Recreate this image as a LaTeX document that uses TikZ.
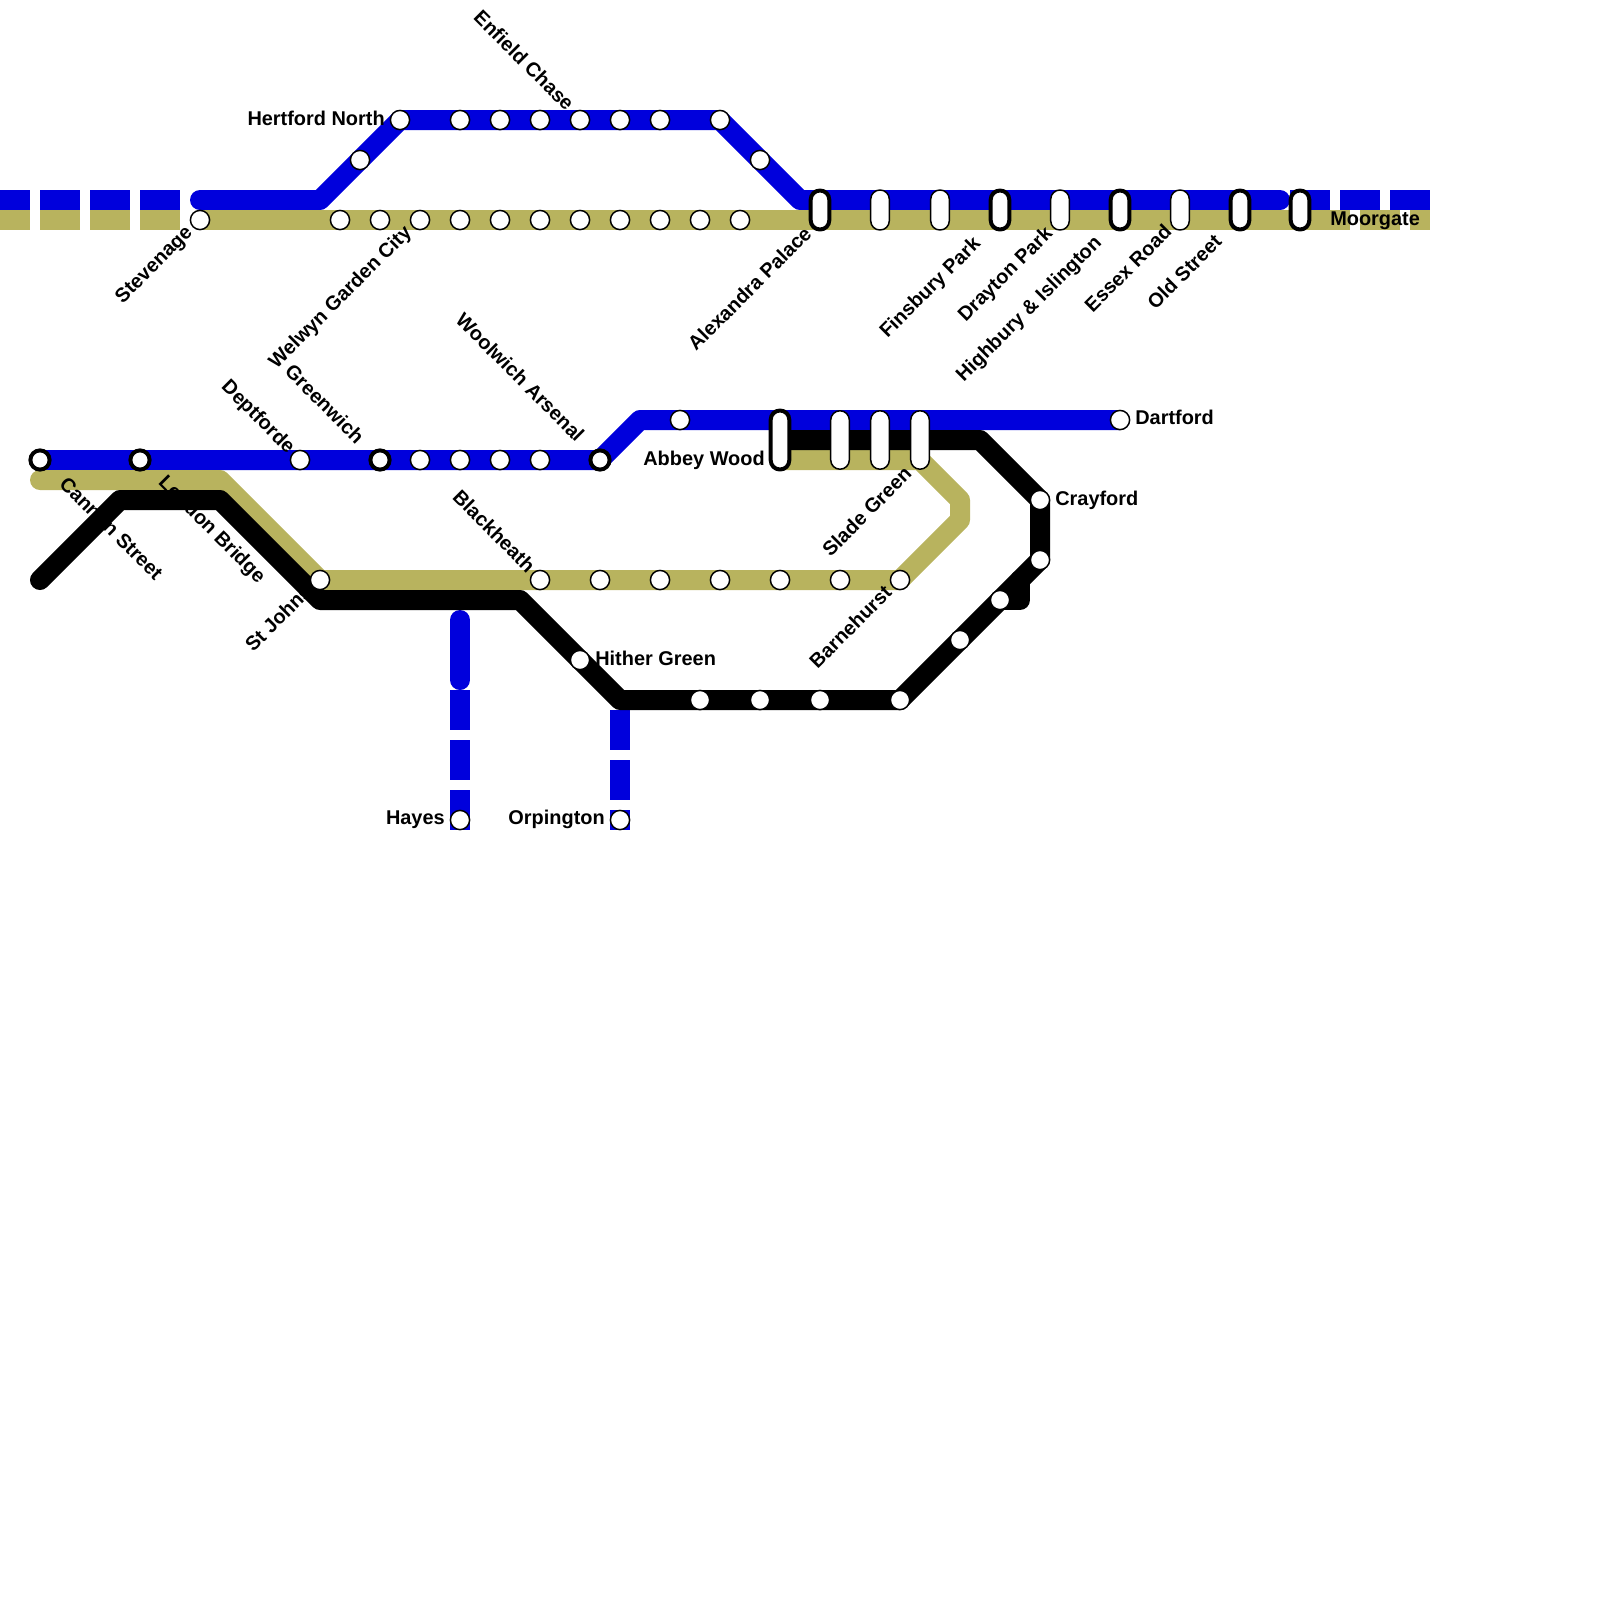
\documentclass[tikz,border=0pt]{standalone}
\usepackage{fontspec}
\setmainfont{Liberation Sans}
\definecolor{lineblue}{RGB}{0,0,220}
\definecolor{linetan}{RGB}{184,179,94}
\usetikzlibrary{positioning}
\pgfdeclarelayer{bg}
\pgfdeclarelayer{mid}
\pgfdeclarelayer{blk}
\pgfsetlayers{bg,mid,blk,main}

\begin{document}
\begin{tikzpicture}[
    x=0.5cm, y=-0.5cm,
    stn/.style={circle, draw, fill=white, inner sep=0pt, minimum size=0.48cm, line width=1.05pt},
    stnx/.style={stn, line width=2.83pt},
    pill/.style={draw, fill=white, inner sep=0pt, minimum width=0.465cm, minimum height=1cm, rounded corners=0.23cm, line width=1.05pt},
    pillx/.style={pill, minimum height=0.975cm, line width=2.83pt},
    pilll/.style={pill, minimum height=1.46cm},
    pilllx/.style={pilll, minimum height=1.475cm, line width=2.83pt},
    lbl/.style={inner sep=0pt, font=\bfseries\fontsize{14.17}{16}\selectfont},
    lblw/.style={lbl, anchor=west},
    lble/.style={lbl, anchor=east},
    up/.style={lbl, rotate=45, anchor=east},
    down/.style={lbl, rotate=-45, anchor=east},
    downs/.style={lbl, rotate=-45, anchor=west},
    route/.style={line width=0.5cm, line join=round, line cap=round},
    dashline/.style={line width=0.5cm, dash pattern=on 1cm off 0.25cm}
]
    \useasboundingbox (0,0) rectangle (80,80);

    % upper branch
    \node[stn] (hertford) at (20,6) {};
    \node[stn] (t1) at (23,6) {};
    \node[stn] (t2) at (25,6) {};
    \node[stn] (t3) at (27,6) {};
    \node[stn] (enfield) at (29,6) {};
    \node[stn] (t5) at (31,6) {};
    \node[stn] (t6) at (33,6) {};
    \node[stn] (t7) at (36,6) {};
    \node[stn] (u1) at (18,8) {};
    \node[stn] (u2) at (38,8) {};

    % main line
    \node[stn] (stevenage) at (10,11) {};
    \node[stn] (w1) at (17,11) {};
    \node[stn] (w2) at (19,11) {};
    \node[stn] (welwyn) at (21,11) {};
    \node[stn] (w4) at (23,11) {};
    \node[stn] (w5) at (25,11) {};
    \node[stn] (w6) at (27,11) {};
    \node[stn] (w7) at (29,11) {};
    \node[stn] (w8) at (31,11) {};
    \node[stn] (w9) at (33,11) {};
    \node[stn] (w10) at (35,11) {};
    \node[stn] (w11) at (37,11) {};
    \node[pillx] (alexandra) at (41,10.5) {};
    \node[pill] (c2) at (44,10.5) {};
    \node[pill] (c3) at (47,10.5) {};
    \node[pillx] (finsbury) at (50,10.5) {};
    \node[pill] (drayton) at (53,10.5) {};
    \node[pillx] (highbury) at (56,10.5) {};
    \node[pill] (essex) at (59,10.5) {};
    \node[pillx] (oldst) at (62,10.5) {};
    \node[pillx] (moorgate) at (65,10.5) {};

    % lower group
    \node[stnx] (cannon) at (2,23) {};
    \node[stnx] (london) at (7,23) {};
    \node[stn] (deptforde) at (15,23) {};
    \node[stnx] (greenwich) at (19,23) {};
    \node[stn] (g1) at (21,23) {};
    \node[stn] (g2) at (23,23) {};
    \node[stn] (g3) at (25,23) {};
    \node[stn] (g4) at (27,23) {};
    \node[stnx] (woolwich) at (30,23) {};
    \node[stn] (m1) at (34,21) {};
    \node[pilllx] (abbey) at (39,22) {};
    \node[pilll] (p2) at (42,22) {};
    \node[pilll] (p3) at (44,22) {};
    \node[pilll] (slade) at (46,22) {};
    \node[stn] (dartford) at (56,21) {};
    \node[stn] (stjohns) at (16,29) {};
    \node[stn] (blackheath) at (27,29) {};
    \node[stn] (b1) at (30,29) {};
    \node[stn] (b2) at (33,29) {};
    \node[stn] (b3) at (36,29) {};
    \node[stn] (b4) at (39,29) {};
    \node[stn] (b5) at (42,29) {};
    \node[stn] (barnehurst) at (45,29) {};
    \node[stn] (hither) at (29,33) {};
    \node[stn] (k1) at (35,35) {};
    \node[stn] (k2) at (38,35) {};
    \node[stn] (k3) at (41,35) {};
    \node[stn] (k4) at (45,35) {};
    \node[stn] (k5) at (48,32) {};
    \node[stn] (k6) at (50,30) {};
    \node[stn] (k7) at (52,28) {};
    \node[stn] (crayford) at (52,25) {};
    \node[stn] (hayes) at (23,41) {};
    \node[stn] (orpington) at (31,41) {};

    \coordinate (a0) at (0,10);
    \coordinate (a1) at (9,10);
    \coordinate (a2) at (10,10);
    \coordinate (a3) at (16,10);
    \coordinate (a4) at (40,10);
    \coordinate (a5) at (64,10);
    \coordinate (a6) at (64.5,10);
    \coordinate (a7) at (71.5,10);
    \coordinate (d0) at (0,11);
    \coordinate (d1) at (9,11);
    \coordinate (d2) at (65.5,11);
    \coordinate (d3) at (71.5,11);
    \coordinate (e1) at (32,21);
    \coordinate (f0) at (2,24);
    \coordinate (f1) at (11,24);
    \coordinate (f2) at (48,26);
    \coordinate (f3) at (48,25);
    \coordinate (f4) at (46,23);
    \coordinate (f5) at (39,23);
    \coordinate (n0) at (2,29);
    \coordinate (n1) at (6,25);
    \coordinate (n2) at (11,25);
    \coordinate (n3) at (16,30);
    \coordinate (n4) at (26,30);
    \coordinate (n5) at (31,35);
    \coordinate (n6) at (49,22);
    \coordinate (n7) at (39,22);
    \coordinate (s0) at (51,29);
    \coordinate (s1) at (51,30);
    \coordinate (h0) at (23,31);
    \coordinate (h1) at (23,34);
    \coordinate (h2) at (23,34.5);
    \coordinate (h3) at (23,41.5);
    \coordinate (o0) at (31,35.5);
    \coordinate (o1) at (31,41.5);

    \begin{pgfonlayer}{bg}
        \draw[route, lineblue] (a2) -- (a3) -- (hertford.center) -- (t7.center) -- (a4) -- (a5);
        \draw[dashline, lineblue, dash phase=0.25cm] (a0) -- (a1);
        \draw[dashline, linetan, dash phase=0.25cm] (d0) -- (d1);
        \draw[dashline, lineblue] (a6) -- (a7);
        \draw[dashline, linetan] (d2) -- (d3);
        \draw[line width=0.5cm, linetan] (stevenage.center) -- (d2);
        \draw[route, lineblue] (cannon.center) -- (woolwich.center) -- (e1) -- (dartford.center);
        \draw[route, linetan] (f0) -- (f1) -- (stjohns.center) -- (barnehurst.center) -- (f2) -- (f3) -- (f4) -- (f5);
        \draw[route, lineblue] (h0) -- (h1);
        \draw[dashline, lineblue] (h2) -- (h3);
        \draw[dashline, lineblue] (o0) -- (o1);
    \end{pgfonlayer}

    \begin{pgfonlayer}{mid}
        \node[lble] (lhertford) at (19.25,5.9) {Hertford North};
        \node[down] (lenfield) at (28.55,5.35) {Enfield Chase};
        \node[up] (lstevenage) at (9.5,11.5) {Stevenage};
        \node[up] (lwelwyn) at (20.45,11.5) {Welwyn Garden City};
        \node[up] (lalexandra) at (40.4,11.5) {Alexandra Palace};
        \node[up] (lfinsbury) at (48.9,12.05) {Finsbury Park};
        \node[up] (ldrayton) at (52.5,11.55) {Drayton Park};
        \node[up] (lhighbury) at (54.95,12) {Highbury \& Islington};
        \node[up] (lessex) at (58.4,11.4) {Essex Road};
        \node[up] (loldst) at (60.9,11.9) {Old Street};
        \node[lblw] (lmoorgate) at (66.5,11.05) {Moorgate};
        \node[downs] (lcannon) at (3.15,24) {Cannon Street};
        \node[downs] (llondon) at (8.05,24) {London Bridge};
        \node[down] (ldeptforde) at (14.55,22.55) {Deptforde};
        \node[down] (lgreenwich) at (18.05,22) {Greenwich};
        \node[down] (lwoolwich) at (29.05,21.9) {Woolwich Arsenal};
        \node[lble] (labbey) at (38.25,23) {Abbey Wood};
        \node[lblw] (ldartford) at (56.75,20.85) {Dartford};
        \node[lblw] (lcrayford) at (52.75,25) {Crayford};
        \node[up] (lslade) at (45.4,23.5) {Slade Green};
        \node[up] (lbarnehurst) at (44.4,29.45) {Barnehurst};
        \node[up] (lstjohns) at (15.4,29.4) {St Johns};
        \node[down] (lblackheath) at (26.6,28.45) {Blackheath};
        \node[lblw] (lhither) at (29.75,32.9) {Hither Green};
        \node[lble] (lhayes) at (22.25,41) {Hayes};
        \node[lble] (lorpington) at (30.25,40.98) {Orpington};
    \end{pgfonlayer}

    \begin{pgfonlayer}{blk}
        \draw[route] (n0) -- (n1) -- (n2) -- (n3) -- (n4) -- (n5) -- (k4.center) -- (k7.center) -- (crayford.center) -- (n6) -- (n7);
        \draw[route] (s0) -- (s1) -- (k6.center);
    \end{pgfonlayer}
\end{tikzpicture}
\end{document}
